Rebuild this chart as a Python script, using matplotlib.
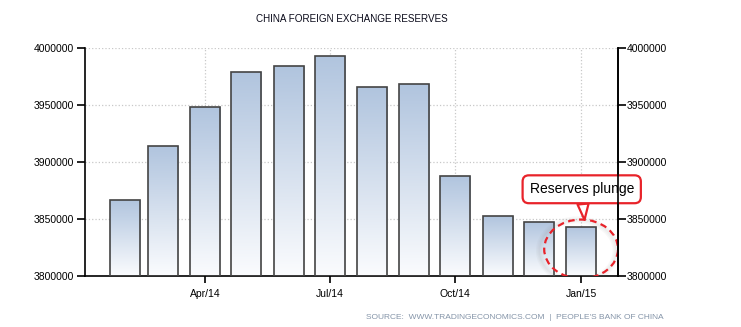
import datetime as dt
import numpy as np
import matplotlib
matplotlib.use("Agg")
import matplotlib.pyplot as plt
import matplotlib.dates as mdates
from matplotlib.patches import Ellipse
from matplotlib.colors import LinearSegmentedColormap

plt.rcParams['font.family'] = ['Liberation Sans', 'DejaVu Sans']

# data, one bar per month
months = ["2014-02", "2014-03", "2014-04", "2014-05", "2014-06", "2014-07",
          "2014-08", "2014-09", "2014-10", "2014-11", "2014-12", "2015-01"]
reserves = [3866600, 3914300, 3948200, 3979000, 3984200, 3993000,
            3965800, 3968400, 3887700, 3852600, 3847400, 3843000]
tick_months = ["2014-04", "2014-07", "2014-10", "2015-01"]
tick_labels = ["Apr/14", "Jul/14", "Oct/14", "Jan/15"]
y_ticks = [3800000, 3850000, 3900000, 3950000, 4000000]

dates = [dt.datetime.strptime(m, "%Y-%m") for m in months]
xs = mdates.date2num(dates)
tick_x = mdates.date2num([dt.datetime.strptime(m, "%Y-%m") for m in tick_months])

fig = plt.figure(figsize=(7.41, 3.27), dpi=100)
ax = fig.add_axes([0.1147, 0.155, 0.7193, 0.698])

ymin, ymax = 3800000, 4000000
xmin = mdates.date2num(dt.datetime(2014, 1, 3))
xmax = mdates.date2num(dt.datetime(2015, 1, 28))
width = 22

# bars with a vertical gradient, blue at the top fading to white
cmap = LinearSegmentedColormap.from_list("grad", ["#fbfcfe", "#b0c4de"])
grad = np.linspace(0, 1, 256).reshape(-1, 1)
bars = ax.bar(xs, [v - ymin for v in reserves], bottom=ymin, width=width,
              facecolor="none", edgecolor="#444444", linewidth=1.2, zorder=3)
for b, v in zip(bars, reserves):
    x0 = b.get_x()
    im = ax.imshow(grad, cmap=cmap, aspect="auto", origin="lower",
                   extent=[x0, x0 + width, ymin, v], zorder=2)
    im.set_clip_path(b)

ax.set_xlim(xmin, xmax)
ax.set_ylim(ymin, ymax)

# grid
ax.set_yticks(y_ticks)
ax.set_xticks(tick_x)
ax.set_xticklabels(tick_labels)
ax.grid(True, color="#c8c8c8", linestyle=":", linewidth=0.9, zorder=0)
ax.set_axisbelow(True)

ax.spines["top"].set_visible(False)
for s in ["left", "bottom", "right"]:
    ax.spines[s].set_color("black")
    ax.spines[s].set_linewidth(1.2)

fmt = matplotlib.ticker.FuncFormatter(lambda v, p: f"{int(v)}")
ax.tick_params(axis="y", direction="out", length=6, width=1.2, labelsize=7.5,
               colors="black", pad=2)
ax.tick_params(axis="x", direction="out", length=5, width=1.2, labelsize=7.5,
               colors="black", pad=4)
ax.yaxis.set_major_formatter(fmt)

ax2 = ax.twinx()
ax2.set_ylim(ymin, ymax)
ax2.set_yticks(y_ticks)
ax2.yaxis.set_major_formatter(fmt)
ax2.tick_params(axis="y", direction="out", length=6, width=1.2, labelsize=7.5,
                colors="black", pad=0)
for s in ["top", "left", "bottom"]:
    ax2.spines[s].set_visible(False)
ax2.spines["right"].set_linewidth(1.2)

ax.set_title("CHINA FOREIGN EXCHANGE RESERVES", fontsize=7.1, color="#0a0a1a",
             pad=19)

# callout on the last bar: soft shadow, dashed ellipse, speech box
circ_y = 3823900
for i, a in enumerate([0.05, 0.05, 0.05]):
    sh = Ellipse((xs[-1] - 2.5, circ_y - 1500), width=54 + 2 * i, height=51700 + 2500 * i,
                 fill=False, edgecolor="#888888", linewidth=3, alpha=a, zorder=4)
    ax.add_patch(sh)
ell = Ellipse((xs[-1], circ_y), width=54, height=51700, fill=False,
              edgecolor="#e8232a", linestyle=(0, (3, 2)), linewidth=1.6, zorder=5)
ax.add_patch(ell)
ax.annotate("Reserves plunge", xy=(xs[-1] + 2.5, 3849500),
            xytext=(-2, 22), textcoords="offset points", ha="center", va="center",
            fontsize=10, color="black", zorder=6,
            bbox=dict(boxstyle="round,pad=0.5,rounding_size=0.45", fc="white",
                      ec="#e8232a", lw=1.6),
            arrowprops=dict(arrowstyle="wedge,tail_width=0.8,shrink_factor=0.5",
                            fc="white", ec="#e8232a", lw=1.6,
                            shrinkA=0, shrinkB=0))

fig.text(0.895, 0.03, "SOURCE:  WWW.TRADINGECONOMICS.COM  |  PEOPLE'S BANK OF CHINA",
         ha="right", va="center", fontsize=6, color="#8494a8")

fig.savefig("out.png", dpi=100)
